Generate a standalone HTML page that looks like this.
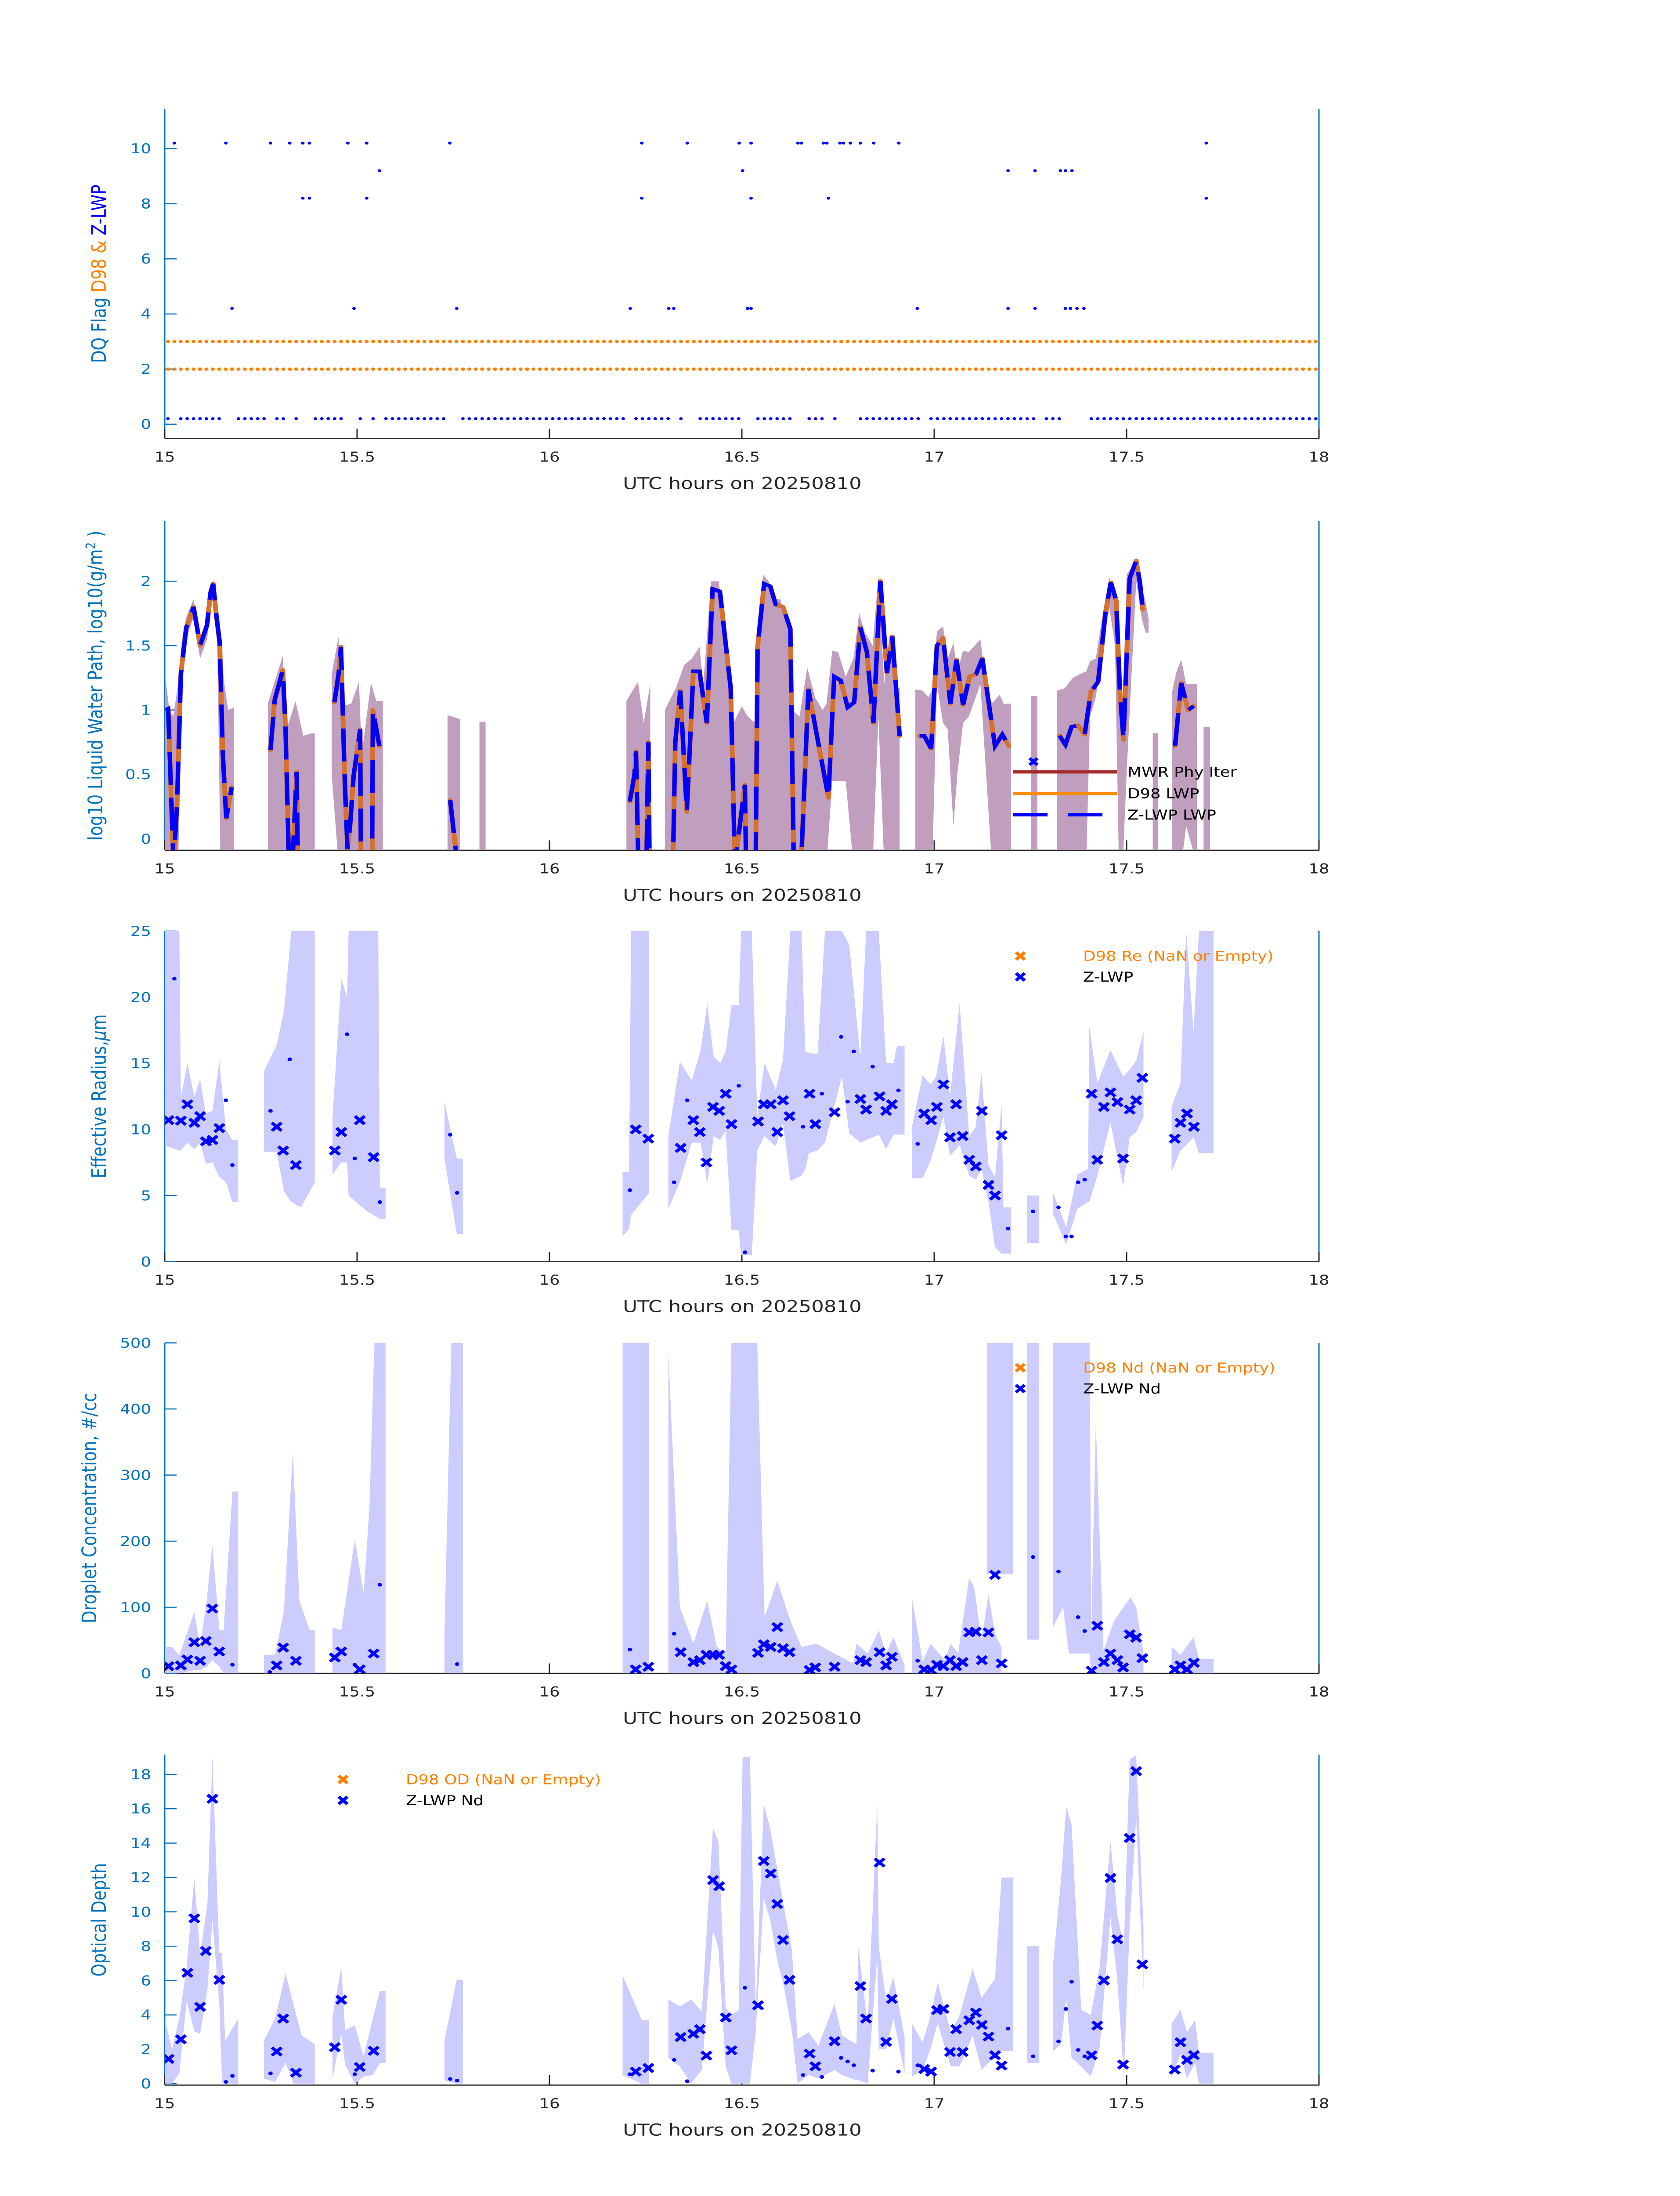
<!DOCTYPE html>
<html><head><meta charset="utf-8"><title>Cloud retrieval panels</title>
<style>html,body{margin:0;padding:0;width:100%;height:100%;overflow:hidden;background:#fff}svg{display:block;position:fixed;left:0;top:0;width:100vw;height:100vh}text{font-family:"DejaVu Sans","Liberation Sans",sans-serif}</style>
</head><body>
<svg id="chart" viewBox="0 0 3825 6000" preserveAspectRatio="none" xmlns="http://www.w3.org/2000/svg">
<rect x="0" y="0" width="3825" height="6000" fill="#fff"/>
</svg>
<script>
// ===== DATA =====
const xTicks=[15,15.5,16,16.5,17,17.5,18];
const xTickLabels=["15","15.5","16","16.5","17","17.5","18"];
const d98FlagValues=[2,3];
const d98FlagMinutes=180;
const zFlag0Runs=[[0,0],[2,8],[11,15],[17,18],[20,20],[23,27],[30,30],[32,32],[34,43],[46,71],[73,78],[80,80],[83,89],[92,97],[100,102],[104,104],[108,117],[119,135],[137,139],[144,179]];
const zFlag10Hours=[15.025,15.159,15.275,15.325,15.359,15.376,15.476,15.525,15.741,16.240,16.358,16.493,16.524,16.646,16.655,16.712,16.721,16.755,16.764,16.782,16.808,16.843,16.908,17.707];
const zFlag8Hours=[15.359,15.376,15.525,16.240,16.524,16.725,17.707];
const zFlag9Hours=[15.558,16.502,17.192,17.262,17.328,17.341,17.358];
const zFlag4Hours=[15.175,15.492,15.759,16.210,16.310,16.323,16.515,16.524,16.956,17.192,17.262,17.341,17.354,17.371,17.389];
const lwpSegs=[
[[15.002,1.0],[15.009,1.01],[15.023,-0.2],[15.032,0.26],[15.042,1.28],[15.056,1.64],[15.075,1.80],[15.092,1.50],[15.110,1.66],[15.119,1.91],[15.126,1.98],[15.134,1.74],[15.143,1.52],[15.151,0.66],[15.160,0.16],[15.174,0.40]],
[[15.275,0.69],[15.286,1.08],[15.307,1.31],[15.314,0.86],[15.323,-0.2],[15.332,-0.2],[15.343,0.52],[15.346,-0.2]],
[[15.441,1.06],[15.452,1.28],[15.458,1.49],[15.468,0.45],[15.475,-0.08],[15.482,0.11],[15.491,0.49],[15.501,0.70],[15.508,0.85],[15.510,-0.2],[15.539,-0.2],[15.541,1.0],[15.558,0.72]],
[[15.742,0.30],[15.757,-0.1]],
[[16.209,0.29],[16.221,0.5],[16.225,0.68],[16.231,-0.2],[16.252,-0.2],[16.257,0.75],[16.260,-0.2],[16.321,-0.2],[16.327,0.75],[16.340,1.15],[16.357,0.21],[16.374,1.30],[16.390,1.30],[16.409,0.90],[16.424,1.94],[16.443,1.92],[16.457,1.54],[16.471,1.17],[16.482,-0.2],[16.508,0.42],[16.511,-0.2],[16.536,-0.2],[16.541,1.49],[16.558,1.98],[16.574,1.96],[16.588,1.82],[16.607,1.80],[16.626,1.63],[16.635,-0.2],[16.654,-0.2],[16.673,1.16],[16.725,0.32],[16.740,1.26],[16.757,1.23],[16.775,1.02],[16.792,1.06],[16.808,1.64],[16.825,1.45],[16.842,0.90],[16.860,2.0],[16.877,1.29],[16.891,1.57],[16.910,0.80]],
[[16.962,0.80],[16.974,0.80],[16.992,0.70],[17.007,1.50],[17.023,1.56],[17.042,1.05],[17.058,1.39],[17.075,1.04],[17.092,1.26],[17.109,1.28],[17.125,1.40],[17.139,1.11],[17.158,0.72],[17.177,0.81],[17.194,0.72]],
[[17.326,0.80],[17.341,0.73],[17.357,0.87],[17.374,0.88],[17.391,0.81],[17.407,1.14],[17.426,1.22],[17.445,1.75],[17.459,1.99],[17.473,1.85],[17.483,1.12],[17.492,0.77],[17.501,1.49],[17.508,2.02],[17.525,2.16],[17.535,1.98],[17.542,1.78]],
[[17.626,0.72],[17.642,1.21],[17.648,1.14],[17.660,1.0],[17.674,1.03]]
];
const lwpBands=[
[[15.0,-0.2,1.3],[15.012,-0.2,1.0],[15.022,-0.2,0.95],[15.035,-0.2,1.2],[15.045,1.2,1.55],[15.056,1.55,1.72],[15.075,1.72,1.86],[15.092,1.40,1.55],[15.110,1.55,1.70],[15.126,1.9,2.02],[15.136,1.65,1.8],[15.145,-0.2,1.5],[15.155,-0.2,1.2],[15.165,-0.2,1.0],[15.18,-0.2,1.02]],
[[15.268,-0.2,1.05],[15.307,-0.2,1.42],[15.316,-0.2,0.84],[15.340,-0.2,1.07],[15.36,-0.2,0.80],[15.382,-0.2,0.82],[15.39,-0.2,0.82]],
[[15.434,0.5,1.28],[15.452,-0.2,1.57],[15.462,-0.2,1.03],[15.485,-0.2,1.05],[15.505,-0.2,1.22],[15.512,-0.2,0.65],[15.536,-0.2,1.21],[15.55,-0.2,1.07],[15.567,-0.2,1.07]],
[[15.735,-0.2,0.96],[15.768,-0.2,0.93]],
[[15.818,-0.2,0.91],[15.834,-0.2,0.91]],
[[16.2,-0.2,1.07],[16.23,-0.2,1.22],[16.245,-0.2,0.9],[16.262,-0.2,1.2]],
[[16.30,-0.2,1.0],[16.33,-0.2,1.18],[16.35,-0.2,1.35],[16.37,-0.2,1.4],[16.39,-0.2,1.49],[16.40,-0.2,1.2],[16.42,-0.2,2.0],[16.44,-0.2,2.0],[16.47,-0.2,1.3],[16.48,-0.2,0.91],[16.50,-0.2,1.03],[16.515,-0.2,0.95],[16.535,-0.2,0.9],[16.54,-0.2,1.5],[16.555,-0.2,2.05],[16.57,-0.2,2.0],[16.585,-0.2,1.86],[16.60,-0.2,1.86],[16.625,-0.2,1.6],[16.63,-0.2,1.0],[16.65,-0.2,0.95],[16.67,-0.2,1.33],[16.69,-0.2,1.1],[16.71,-0.2,1.0],[16.72,-0.2,1.05],[16.735,0.45,1.46],[16.75,0.45,1.45],[16.77,0.45,1.26],[16.79,-0.2,1.4],[16.805,-0.2,1.75],[16.82,-0.2,1.6],[16.84,-0.2,1.5],[16.855,0.95,2.05],[16.87,-0.2,1.2],[16.885,-0.2,1.6],[16.90,-0.2,1.17],[16.91,-0.2,1.17]],
[[16.951,-0.2,1.16],[16.97,-0.2,1.15],[16.985,-0.2,1.1],[16.995,-0.2,1.16],[17.007,1.2,1.61],[17.023,0.9,1.65],[17.035,0.85,1.4],[17.05,0.1,1.52],[17.06,0.5,1.3],[17.075,0.9,1.46],[17.09,0.95,1.45],[17.12,1.2,1.55],[17.135,0.5,1.2],[17.15,-0.2,1.05],[17.17,-0.2,1.12],[17.18,-0.2,1.05],[17.2,-0.2,1.05]],
[[17.251,-0.2,1.11],[17.268,-0.2,1.11]],
[[17.319,-0.2,1.15],[17.34,-0.2,1.17],[17.36,-0.2,1.25],[17.38,-0.2,1.28],[17.395,-0.2,1.3],[17.405,0.95,1.38],[17.42,1.1,1.4],[17.44,1.5,1.78],[17.455,1.8,2.03],[17.47,1.5,1.9],[17.48,-0.2,1.2],[17.49,-0.2,0.8],[17.50,0.5,2.05],[17.525,2.0,2.17],[17.54,1.7,1.95],[17.55,1.6,1.83],[17.557,1.6,1.71]],
[[17.568,-0.2,0.82],[17.582,-0.2,0.82]],
[[17.618,-0.2,1.14],[17.63,-0.2,1.3],[17.642,-0.2,1.39],[17.655,0.1,1.2],[17.683,-0.2,1.2]],
[[17.70,-0.2,0.87],[17.717,-0.2,0.87]]
];
const lwpMarkerHour=[17.258];
const lwpMarkerValue=[0.6];
const reHours=[15.010,15.042,15.059,15.077,15.092,15.107,15.124,15.142,15.291,15.308,15.341,15.442,15.459,15.507,15.543,16.224,16.257,16.341,16.374,16.391,16.408,16.425,16.441,16.458,16.473,16.542,16.557,16.575,16.592,16.607,16.624,16.676,16.691,16.741,16.808,16.823,16.858,16.875,16.890,16.974,16.992,17.007,17.024,17.041,17.057,17.074,17.091,17.108,17.124,17.141,17.158,17.175,17.409,17.424,17.441,17.458,17.476,17.491,17.508,17.525,17.541,17.625,17.640,17.657,17.675];
const reValues=[10.7,10.66,11.9,10.5,11.0,9.1,9.2,10.1,10.2,8.4,7.3,8.4,9.8,10.7,7.9,10.0,9.3,8.6,10.7,9.8,7.5,11.7,11.4,12.7,10.4,10.6,11.9,11.9,9.8,12.2,11.0,12.7,10.4,11.3,12.3,11.5,12.5,11.4,11.9,11.2,10.7,11.7,13.4,9.4,11.9,9.5,7.7,7.2,11.4,5.8,5.0,9.56,12.7,7.7,11.7,12.8,12.07,7.8,11.5,12.2,13.9,9.3,10.5,11.2,10.2];
const reDotHours=[15.025,15.159,15.176,15.275,15.325,15.474,15.494,15.559,15.742,15.760,16.209,16.324,16.358,16.492,16.508,16.659,16.708,16.758,16.775,16.791,16.840,16.907,16.957,17.192,17.257,17.323,17.342,17.357,17.374,17.391];
const reDotValues=[21.4,12.2,7.3,11.4,15.3,17.2,7.8,4.5,9.6,5.2,5.4,6.0,12.2,13.3,0.7,10.2,12.7,17.0,12.1,15.9,14.75,12.95,8.9,2.5,3.8,4.1,1.9,1.9,6.0,6.2];
const reBands=[
[[15.000,8.8,25],[15.019,8.6,25],[15.038,8.4,25],[15.042,8.4,12.4],[15.059,9.0,15.0],[15.077,8.5,12.5],[15.092,9.0,13.8],[15.107,7.4,11.2],[15.124,7.5,11.4],[15.142,6.4,15.2],[15.159,6.0,10.0],[15.176,4.5,9.2],[15.191,4.5,9.2]],
[[15.258,8.3,14.4],[15.291,8.3,16.4],[15.310,5.3,19.0],[15.329,4.5,25],[15.354,4.1,25],[15.390,6.0,25]],
[[15.436,6.6,10.8],[15.459,7.5,21.4],[15.474,7.5,20],[15.478,5.0,25],[15.526,3.8,25],[15.555,3.3,25],[15.559,3.2,5.6],[15.574,3.2,5.6]],
[[15.727,7.8,12.1],[15.759,2.1,7.8],[15.775,2.1,7.8]],
[[16.190,1.9,6.8],[16.207,2.5,6.8],[16.212,3.5,25],[16.259,5.2,25]],
[[16.309,4.0,9.5],[16.339,6,15.1],[16.370,9,13.7],[16.393,9,16],[16.410,5.9,19.5],[16.427,9.5,15.5],[16.444,9.2,15.0],[16.458,9.9,15.9],[16.473,2.4,19.4],[16.492,2.4,19.4],[16.498,0.5,25],[16.526,0.5,25],[16.540,8.4,11],[16.559,9.5,15.0],[16.588,8.7,13],[16.607,10.5,15.3],[16.626,6.1,25],[16.655,6.5,25],[16.665,7,15.9],[16.674,8.2,15.8],[16.697,8.4,15.7],[16.716,9,25],[16.760,14,25],[16.779,9.7,24],[16.808,9.0,15.5],[16.823,9.2,25],[16.856,9.6,25],[16.875,8.5,15.0],[16.894,9.6,15.0],[16.903,9.6,16.3],[16.923,9.6,16.3]],
[[16.942,6.3,10.2],[16.970,6.3,14.1],[16.990,7.6,13.4],[17.005,9,14.0],[17.024,11,17.1],[17.041,8,12.5],[17.066,8.8,19.5],[17.091,6.5,9.5],[17.108,6.2,10.2],[17.123,7.0,14.3],[17.141,4.5,7.3],[17.158,1.1,6.4],[17.175,0.6,11.9],[17.180,0.6,4.1],[17.200,0.6,4.1]],
[[17.242,1.4,5.0],[17.273,1.4,5.0]],
[[17.309,3.6,5.2],[17.343,1.3,2.6],[17.372,4,6.6],[17.400,4.5,7.0],[17.403,4.5,17.8],[17.424,6.5,13.5],[17.458,10.5,16.0],[17.491,5.7,14],[17.508,9.4,14.5],[17.525,9.8,15.2],[17.544,10.9,17.4]],
[[17.617,6.8,11.7],[17.640,8.4,13.5],[17.655,8.8,25],[17.674,9.4,17.4],[17.688,8.2,25],[17.726,8.2,25]]
];
const ndValues=[10.8,12,21,47,19,49,98,33,12,39,19,24,33,6,30,6,10,32,17,20,28,28,28,11,6,31,44,40,70,38,32,5,9,10,20,17,32,12,25,6,5,13,11,20,11,17,62,63,20,62,149,15,4,72,17,30,20,9,59,54,23,6,12,6,16];
const ndDotHours=[15.176,15.273,15.494,15.559,15.760,16.209,16.324,16.957,17.257,17.323,17.374,17.391];
const ndDotValues=[13,2,13,134,14,36,60,19,176,154,85,64];
const ndBands=[
[[15.000,0,40],[15.019,0,40],[15.038,0,27],[15.077,5,93],[15.092,5,40],[15.109,10,110],[15.124,20,194],[15.142,10,65],[15.153,0,65],[15.176,0,275],[15.191,0,275]],
[[15.258,0,28],[15.287,0,28],[15.310,0,95],[15.333,0,335],[15.350,0,110],[15.377,0,65],[15.390,0,65]],
[[15.436,0,70],[15.459,0,65],[15.494,0,203],[15.517,0,120],[15.532,0,250],[15.545,0,500],[15.574,0,500]],
[[15.727,0,60],[15.745,0,500],[15.775,0,500]],
[[16.190,0,500],[16.259,0,500]],
[[16.309,0,485],[16.339,0,100],[16.374,0,45],[16.410,0,110],[16.435,0,40],[16.458,0,30],[16.473,0,500],[16.540,0,500],[16.559,0,85],[16.592,0,140],[16.626,0,80],[16.655,0,40],[16.693,0,45],[16.741,0,30],[16.789,0,15],[16.798,0,45],[16.827,0,30],[16.856,0,65],[16.875,0,30],[16.894,0,55],[16.923,0,12]],
[[16.942,0,115],[16.970,0,18],[16.990,0,45],[17.028,0,20],[17.043,0,45],[17.062,0,30],[17.091,0,145],[17.104,0,130],[17.123,0,50],[17.141,0,120],[17.158,0,60],[17.175,0,40]],
[[17.137,150,500],[17.205,150,500]],
[[17.242,51,500],[17.273,51,500]],
[[17.309,70,500],[17.335,100,500],[17.350,30,500],[17.404,30,500],[17.408,0,60],[17.420,0,380],[17.440,0,35],[17.468,0,80],[17.510,0,115],[17.525,0,100],[17.544,0,30]],
[[17.617,0,40],[17.640,0,28],[17.674,0,55],[17.688,0,22],[17.726,0,22]]
];
const odValues=[1.44,2.58,6.45,9.62,4.47,7.72,16.58,6.04,1.87,3.79,0.64,2.12,4.88,0.97,1.91,0.70,0.91,2.71,2.90,3.17,1.63,11.85,11.49,3.85,1.94,4.56,12.96,12.23,10.46,8.36,6.04,1.75,1.01,2.47,5.68,3.79,12.87,2.43,4.93,0.85,0.70,4.28,4.35,1.84,3.17,1.84,3.69,4.14,3.42,2.74,1.65,1.05,1.65,3.38,6.01,11.97,8.40,1.11,14.3,18.19,6.94,0.82,2.41,1.38,1.66];
const odDotHours=[15.159,15.176,15.275,15.494,15.742,15.760,16.209,16.324,16.358,16.508,16.659,16.708,16.758,16.775,16.791,16.840,16.907,16.957,17.192,17.257,17.323,17.342,17.357,17.374,17.391];
const odDotValues=[0.1,0.45,0.6,0.55,0.27,0.18,0.55,1.38,0.14,5.58,0.5,0.39,1.5,1.29,1.07,0.76,0.70,1.07,3.2,1.59,2.46,4.35,5.93,1.96,1.59];
const odBands=[
[[15.000,0,3.8],[15.019,0,2.0],[15.038,0.6,3.8],[15.057,4.8,6.8],[15.077,3.05,12],[15.092,2.9,7.5],[15.111,5.5,10.5],[15.124,9.5,19],[15.142,4.6,7.6],[15.149,0.1,7.6],[15.157,0,2.5],[15.191,0,3.8]],
[[15.258,0.3,2.5],[15.287,0.1,3.8],[15.314,1.2,6.4],[15.335,0,4.6],[15.356,0,2.8],[15.390,0,2.3]],
[[15.436,0.3,3.9],[15.459,2.9,6.8],[15.469,1.1,3.1],[15.494,0,3.4],[15.517,0.4,1.6],[15.541,0.5,3.8],[15.559,1.2,5.4],[15.574,1.2,5.4]],
[[15.727,0.2,2.5],[15.759,0,6.05],[15.775,0,6.05]],
[[16.190,0.5,6.3],[16.240,0,3.7],[16.259,0,3.7]],
[[16.309,1.5,4.9],[16.339,1.0,4.5],[16.368,0,4.9],[16.396,0.8,4.2],[16.425,8.9,14.9],[16.439,7.9,14.1],[16.458,1.0,4.4],[16.473,0,4.0],[16.492,0,4.3],[16.502,0,19],[16.521,0,19],[16.536,3,4.3],[16.557,10.8,16.3],[16.574,9.5,14.8],[16.592,7.2,12.5],[16.607,5.9,10.6],[16.630,3.1,7.8],[16.645,0,2.6],[16.674,0.5,3.0],[16.699,0.3,2.2],[16.741,0.8,4.66],[16.760,0.5,2.8],[16.798,0.2,2.3],[16.803,0.2,7.9],[16.827,0,3.4],[16.852,7.4,16.3],[16.856,2.0,8],[16.875,2.0,4.8],[16.894,3.8,6.2],[16.923,0.6,2.7]],
[[16.942,0.4,3.5],[16.970,0.8,2.4],[16.990,2,3.9],[17.009,3.5,5.9],[17.043,1.0,3.0],[17.066,1.0,4.0],[17.100,2.8,6.7],[17.123,0.8,5.0],[17.158,1.6,6.1],[17.175,1.9,12.0],[17.205,1.9,12.0]],
[[17.242,1.2,8.0],[17.273,1.2,8.0]],
[[17.309,1.9,7.0],[17.330,2.3,12],[17.343,5.0,16.1],[17.357,1.5,15.1],[17.382,1.0,4.3],[17.407,0.4,4.0],[17.430,2.1,6.8],[17.458,9.7,14.1],[17.476,6.0,9.8],[17.493,0.4,8],[17.508,9.2,18.9],[17.525,15.5,19.1],[17.544,5.4,9.1]],
[[17.617,0.3,3.5],[17.640,1.7,4.3],[17.657,0.3,3.0],[17.678,1.2,3.7],[17.688,0,1.8],[17.726,0,1.8]]
];
const p1Ticks=[0,2,4,6,8,10], p2Ticks=[0,0.5,1,1.5,2], p3Ticks=[0,5,10,15,20,25], p4Ticks=[0,100,200,300,400,500], p5Ticks=[0,2,4,6,8,10,12,14,16,18];

// ===== DRAWING =====
const NS='http://www.w3.org/2000/svg';
const svg=document.getElementById('chart');
const X0=375,X1=3003;
function X(h){return X0+(h-15)*(X1-X0)/3;}
const P=[
 {top:298,bot:1198,y0:1159,k:75.3},
 {top:1423,bot:2323,y0:2292,k:352},
 {top:2544,bot:3447,y0:3447,k:36.12},
 {top:3669,bot:4572,y0:4572,k:1.806},
 {top:4794,bot:5697,y0:5693,k:46.94}
];
function Y(p,v){return P[p].y0-P[p].k*v;}
function el(tag,attrs,parent){const e=document.createElementNS(NS,tag);for(const a in attrs)e.setAttribute(a,attrs[a]);(parent||svg).appendChild(e);return e;}
const defs=el('defs',{});
P.forEach((p,i)=>{const c=el('clipPath',{id:'clip'+i},defs);el('rect',{x:X0,y:p.top,width:X1-X0,height:p.bot-p.top},c);});

function axes(i,ticks,fmt,title,titleX){
  const p=P[i];
  const g=el('g',{});
  
  
  const la=el('line',{x1:X0,y1:p.top,x2:X0,y2:p.bot,stroke:'#0072bd','stroke-width':3},g);
  
  
  const ra=el('line',{x1:X1,y1:p.top,x2:X1,y2:p.bot,stroke:'#0072bd','stroke-width':3},g);
  
  
  const ba=el('line',{x1:X0,y1:p.bot,x2:X1+1,y2:p.bot,stroke:'#262626','stroke-width':3},g);
  
  
  ticks.forEach(t=>{
    const y=Y(i,t);
    const tl=el('line',{x1:X0,y1:y,x2:X0+27,y2:y,stroke:'#0072bd','stroke-width':3},g);
    
    
    const tx=el('text',{x:344,y:y+13,'text-anchor':'end','font-size':37,fill:'#0072bd'},g);
    tx.textContent=fmt(t);
    
    
  });
  xTicks.forEach((t,j)=>{
    const x=X(t);
    const tl=el('line',{x1:x,y1:p.bot,x2:x,y2:p.bot-27,stroke:'#262626','stroke-width':3},g);
    
    
    const tx=el('text',{x:x,y:p.bot+63,'text-anchor':'middle','font-size':37,fill:'#262626'},g);
    tx.textContent=xTickLabels[j];
    
    
  });
  const xt=el('text',{x:1690,y:p.bot+138,'text-anchor':'middle','font-size':45,fill:'#262626'},g);
  xt.textContent='UTC hours on 20250810';
  
  
  const cy=(p.top+p.bot)/2;
  const yt=el('text',{x:0,y:0,'text-anchor':'middle','font-size':45,fill:'#0072bd',transform:'translate('+(titleX+16)+','+cy+') rotate(-90)'},g);
  
  
  title(yt);
}
function tspan(parent,txt,color,extra){const t=el('tspan',Object.assign({fill:color},extra||{}),parent);t.textContent=txt;return t;}
function bandPoly(i,seg,color,name){
  let pts=seg.map(s=>X(s[0])+','+Y(i,s[2]));
  for(let j=seg.length-1;j>=0;j--)pts.push(X(seg[j][0])+','+Y(i,seg[j][1]));
  const pg=el('polygon',{points:pts.join(' '),fill:color,'clip-path':'url(#clip'+i+')'});
  
  
}
function cross(x,y,color,name,s){
  s=s||11;
  const c=el('path',{d:'M'+(x-s)+','+(y-s)+'L'+(x+s)+','+(y+s)+'M'+(x-s)+','+(y+s)+'L'+(x+s)+','+(y-s),stroke:color,'stroke-width':8,fill:'none'});
  
  
  return c;
}
function dot(x,y,r,color,name,clip){
  const c=el('circle',{cx:x,cy:y,r:r,fill:color});
  if(clip!==undefined)c.setAttribute('clip-path','url(#clip'+clip+')');
  
  
}

// ---- Panel 1
axes(0,p1Ticks,String,t=>{tspan(t,'DQ Flag  ','#0072bd');tspan(t,'D98 & ','#ff8000');tspan(t,' Z-LWP','#0000ff');},225);
d98FlagValues.forEach(v=>{
  for(let m=0;m<d98FlagMinutes;m++){
    dot(X(15+(m+0.5)/60),Y(0,v),4.5,'#ff8000','d98-flag-dot');
  }
});
zFlag0Runs.forEach(r=>{for(let m=r[0];m<=r[1];m++)dot(X(15+(m+0.5)/60),Y(0,0.2),4,'#0000ff','zlwp-flag-0-dot');});
zFlag10Hours.forEach(h=>dot(X(h),Y(0,10.2),4,'#0000ff','zlwp-flag-10-dot'));
zFlag8Hours.forEach(h=>dot(X(h),Y(0,8.2),4,'#0000ff','zlwp-flag-8-dot'));
zFlag9Hours.forEach(h=>dot(X(h),Y(0,9.2),4,'#0000ff','zlwp-flag-9-dot'));
zFlag4Hours.forEach(h=>dot(X(h),Y(0,4.2),4,'#0000ff','zlwp-flag-4-dot'));

// ---- Panel 2
axes(1,p2Ticks,String,t=>{tspan(t,'log10 Liquid Water Path, log10(g/m','#0072bd');tspan(t,'2','#0072bd',{'font-size':30,dy:-16});tspan(t,' )','#0072bd',{dy:16});},217);
lwpBands.forEach(s=>bandPoly(1,s,'#c09ebd','mwr-lwp-band'));
lwpSegs.forEach(s=>{
  const pts=s.map(p=>X(p[0])+','+Y(1,p[1])).join(' ');
  const o=el('polyline',{points:pts,fill:'none',stroke:'#d5712f','stroke-width':11,'stroke-linejoin':'round','stroke-linecap':'round','clip-path':'url(#clip1)'});
  
  
  const b=el('polyline',{points:pts,fill:'none',stroke:'#0000ff','stroke-width':10,'stroke-dasharray':'90 35','clip-path':'url(#clip1)'});
  
  
});
lwpMarkerHour.forEach((h,j)=>cross(X(h),Y(1,lwpMarkerValue[j]),'#0000ff','zlwp-lwp-marker',9));
(function(){
  const g=el('g',{});
  
  
  const items=[['MWR Phy Iter','#a52a2a',null,2109],['D98 LWP','#ff8c00',null,2168],['Z-LWP LWP','#0000ff','78 47',2226]];
  items.forEach(it=>{
    const l=el('line',{x1:2307,y1:it[3],x2:2543,y2:it[3],stroke:it[1],'stroke-width':9},g);
    if(it[2])l.setAttribute('stroke-dasharray',it[2]);
    
    
    const t=el('text',{x:2567,y:it[3]+13,'font-size':37,fill:'#000'},g);
    t.textContent=it[0];
    
    
  });
})();

function scatterPanel(i,bands,vals,dotH,dotV,bandName,markName){
  bands.forEach(s=>bandPoly(i,s,'#ccccff',bandName));
  reHours.forEach((h,j)=>{const c=cross(X(h),Y(i,vals[j]),'#0000ff',markName);c.setAttribute('clip-path','url(#clip'+i+')');});
  dotH.forEach((h,j)=>dot(X(h),Y(i,dotV[j]),5,'#0000ff',markName+'-small',i));
}
function legend(i,x,y,label1,label2){
  const g=el('g',{});
  
  
  const c1=cross(x,y,'#ff8000','legend-marker-d98',10);g.appendChild(c1);
  const t1=el('text',{x:x+143,y:y+13,'font-size':37,fill:'#ff8000'},g);t1.textContent=label1;
  
  
  const c2=cross(x,y+57,'#0000ff','legend-marker-zlwp',10);g.appendChild(c2);
  const t2=el('text',{x:x+143,y:y+70,'font-size':37,fill:'#000'},g);t2.textContent=label2;
  
  
}
axes(2,p3Ticks,String,t=>{tspan(t,'Effective Radius,','#0072bd');tspan(t,'μ','#0072bd',{'font-style':'italic'});tspan(t,'m','#0072bd');},225);
scatterPanel(2,reBands,reValues,reDotHours,reDotValues,'re-uncertainty-band','re-marker');
legend(2,2323,2612,'D98 Re (NaN or Empty)','Z-LWP');

axes(3,p4Ticks,String,t=>{tspan(t,'Droplet Concentration, #/cc','#0072bd');},203);
scatterPanel(3,ndBands,ndValues,ndDotHours,ndDotValues,'nd-uncertainty-band','nd-marker');
legend(3,2323,3737,'D98 Nd (NaN or Empty)','Z-LWP Nd');

axes(4,p5Ticks,String,t=>{tspan(t,'Optical Depth','#0072bd');},225);
scatterPanel(4,odBands,odValues,odDotHours,odDotValues,'od-uncertainty-band','od-marker');
legend(4,781,4862,'D98 OD (NaN or Empty)','Z-LWP Nd');
</script>
</body></html>
